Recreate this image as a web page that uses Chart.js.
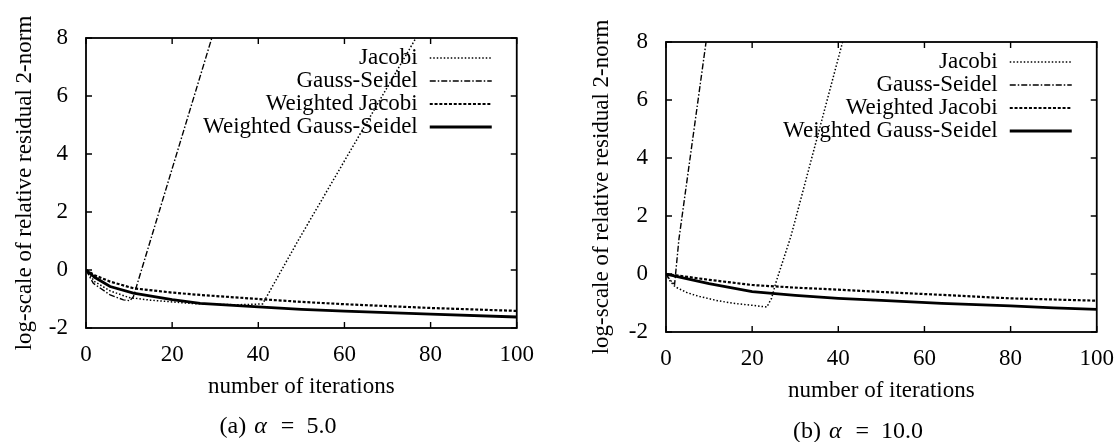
<!DOCTYPE html>
<html lang="en">
<head>
<meta charset="UTF-8">
<title>Relative residual 2-norm vs iterations</title>
<script src="https://cdn.jsdelivr.net/npm/chart.js"></script>
<style>
  body { margin: 0; background: #fff; width: 1119px; height: 442px; overflow: hidden; position: relative; font-family: "Liberation Serif", serif; color: #000; }
  .box { position: absolute; width: 539px; height: 442px; }
  #boxA { left: 0; top: 0; }
  #boxB { left: 580px; top: 4px; }
  .caption { position: absolute; font-size: 24px; white-space: nowrap; transform: translateX(-50%); line-height: 28px; }
  .caption i { margin: 0 2px; }
</style>
</head>
<body>
<div class="box" id="boxA"><canvas id="chartA"></canvas></div>
<div class="box" id="boxB"><canvas id="chartB"></canvas></div>
<div class="caption" style="left:278px; top:411px;">(a) <i>α</i> &nbsp;=&nbsp; 5.0</div>
<div class="caption" style="left:858px; top:416px;">(b) <i>α</i> &nbsp;=&nbsp; 10.0</div>

<script>
    const seriesNames = ['Jacobi', 'Gauss-Seidel', 'Weighted Jacobi', 'Weighted Gauss-Seidel'];
    const xTickValues = [0, 20, 40, 60, 80, 100];
    const yTickValues = [-2, 0, 2, 4, 6, 8];

    // (a) alpha = 5.0
    const jacobiA_x = [0, 2, 5.6, 10, 15, 25, 35, 41, 49.3, 76.6];
    const jacobiA_y = [0, -0.4, -0.72, -0.95, -1.04, -1.16, -1.2, -1.17, 1.03, 8];
    const gsA_x = [0, 1.7, 5.6, 8.7, 10.2, 11, 29.2];
    const gsA_y = [0, -0.46, -0.86, -1.03, -1.06, -0.92, 8];
    const wjA_x = [0, 2, 5.6, 11, 20, 26.5, 40, 50, 60, 80, 100];
    const wjA_y = [0, -0.18, -0.4, -0.63, -0.78, -0.86, -1.0, -1.1, -1.18, -1.31, -1.41];
    const wgsA_x = [0, 2, 5.6, 11, 20, 26.5, 40, 50, 60, 80, 100];
    const wgsA_y = [0, -0.25, -0.57, -0.8, -1.02, -1.15, -1.27, -1.36, -1.42, -1.52, -1.62];

    // (b) alpha = 10.0
    const jacobiB_x = [0, 1, 2.1, 5, 7.9, 12, 15.6, 20, 23.4, 24.5, 25.5, 29, 41];
    const jacobiB_y = [0, -0.25, -0.44, -0.65, -0.78, -0.92, -1.01, -1.08, -1.14, -0.84, -0.3, 1.3, 8];
    const gsB_x = [0, 1, 2, 3, 9.3];
    const gsB_y = [0, -0.22, -0.35, 1.2, 8];
    const wjB_x = [0, 5, 10, 20, 30, 40, 50, 64, 80, 100];
    const wjB_y = [0, -0.1, -0.2, -0.38, -0.47, -0.54, -0.62, -0.72, -0.84, -0.92];
    const wgsB_x = [0, 5, 10, 20, 30, 40, 50, 64, 80, 90, 100];
    const wgsB_y = [0, -0.17, -0.33, -0.61, -0.74, -0.84, -0.91, -1.01, -1.1, -1.17, -1.22];

    const FONT = '"Liberation Serif", "Times New Roman", serif';

    // line looks: dotted, dash-dot, dashed, solid
    const lineStyles = [
        { borderDash: [1.5, 2], borderWidth: 1.5 },
        { borderDash: [6, 2, 1.5, 2], borderWidth: 1.4 },
        { borderDash: [3, 1.8], borderWidth: 2.2 },
        { borderDash: [], borderWidth: 2.8 }
    ];

    function toPoints(xs, ys) {
        return xs.map((x, i) => ({ x: x, y: ys[i] }));
    }

    // box, inward mirror ticks and the gnuplot-style key
    const framePlugin = {
        id: 'frame',
        afterDraw(chart) {
            const { ctx, chartArea: a } = chart;
            const xs = chart.scales.x, ys = chart.scales.y;
            const t = 6;
            ctx.save();
            ctx.strokeStyle = '#000';
            ctx.setLineDash([]);
            ctx.lineWidth = 1.8;
            ctx.strokeRect(a.left, a.top, a.right - a.left, a.bottom - a.top);
            ctx.lineWidth = 1.4;
            ctx.beginPath();
            xs.ticks.forEach(tk => {
                const px = xs.getPixelForValue(tk.value);
                ctx.moveTo(px, a.bottom); ctx.lineTo(px, a.bottom - t);
                ctx.moveTo(px, a.top); ctx.lineTo(px, a.top + t);
            });
            ys.ticks.forEach(tk => {
                const py = ys.getPixelForValue(tk.value);
                ctx.moveTo(a.left, py); ctx.lineTo(a.left + t, py);
                ctx.moveTo(a.right, py); ctx.lineTo(a.right - t, py);
            });
            ctx.stroke();

            const rows = [20, 43, 66, 89];
            ctx.font = '23px ' + FONT;
            ctx.fillStyle = '#000';
            ctx.textAlign = 'right';
            ctx.textBaseline = 'middle';
            chart.data.datasets.forEach((ds, i) => {
                const yy = a.top + rows[i];
                ctx.fillText(ds.label, a.right - 99, yy);
                ctx.beginPath();
                ctx.lineWidth = ds.borderWidth;
                ctx.setLineDash(ds.borderDash);
                ctx.moveTo(a.right - 87, yy);
                ctx.lineTo(a.right - 25, yy);
                ctx.stroke();
            });
            ctx.restore();
        }
    };

    function makeChart(id, seriesPoints, yTitlePad) {
        return new Chart(document.getElementById(id), {
            type: 'scatter',
            data: {
                datasets: seriesPoints.map((pts, i) => ({
                    label: seriesNames[i],
                    data: pts,
                    showLine: true,
                    pointRadius: 0,
                    borderColor: '#000',
                    borderDash: lineStyles[i].borderDash,
                    borderWidth: lineStyles[i].borderWidth,
                    tension: 0
                }))
            },
            options: {
                responsive: true,
                maintainAspectRatio: false,
                animation: false,
                layout: { padding: { top: 38, right: 22, bottom: 41, left: 0 } },
                plugins: { legend: { display: false }, tooltip: { enabled: false } },
                scales: {
                    x: {
                        type: 'linear', min: 0, max: 100,
                        grid: { display: false }, border: { display: false },
                        afterBuildTicks: s => { s.ticks = xTickValues.map(v => ({ value: v })); },
                        afterFit: s => { s.height = 73; },
                        ticks: { padding: 5, color: '#000', maxRotation: 0, autoSkip: false, font: { family: FONT, size: 23 } },
                        title: { display: true, text: 'number of iterations', color: '#000', font: { family: FONT, size: 23 }, padding: { top: 0, bottom: 0 } }
                    },
                    y: {
                        min: -2, max: 8,
                        grid: { display: false }, border: { display: false },
                        afterBuildTicks: s => { s.ticks = yTickValues.map(v => ({ value: v })); },
                        afterFit: s => { s.width = 86; },
                        ticks: { padding: 10, color: '#000', autoSkip: false, font: { family: FONT, size: 23 } },
                        title: { display: true, text: 'log-scale of relative residual 2-norm', color: '#000', font: { family: FONT, size: 23 }, padding: { top: yTitlePad, bottom: 0 } }
                    }
                }
            },
            plugins: [framePlugin]
        });
    }

    makeChart('chartA', [
        toPoints(jacobiA_x, jacobiA_y),
        toPoints(gsA_x, gsA_y),
        toPoints(wjA_x, wjA_y),
        toPoints(wgsA_x, wgsA_y)
    ], 11);

    makeChart('chartB', [
        toPoints(jacobiB_x, jacobiB_y),
        toPoints(gsB_x, gsB_y),
        toPoints(wjB_x, wjB_y),
        toPoints(wgsB_x, wgsB_y)
    ], 8);
</script>
</body>
</html>
